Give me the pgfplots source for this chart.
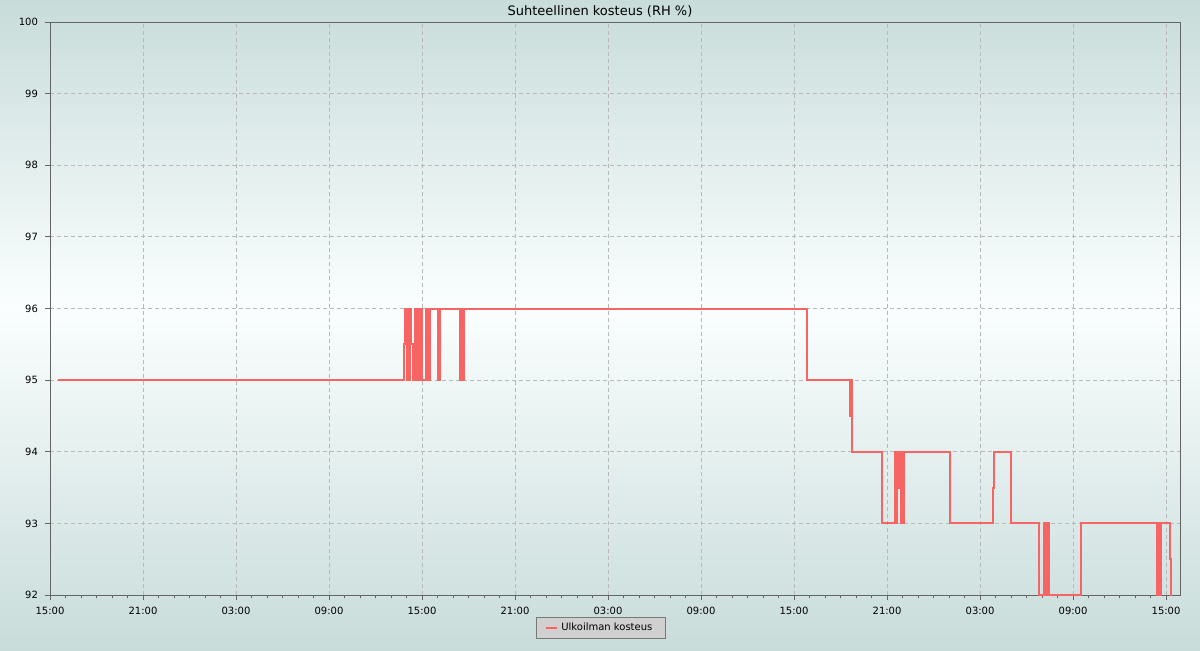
\documentclass[border=0pt]{standalone}
\usepackage{pgfplots}
\pgfplotsset{compat=1.18}
\usepackage{fontspec}
\setmainfont{DejaVu Sans}
\definecolor{bgteal}{RGB}{200,220,218}
\definecolor{bgmid}{RGB}{250,254,254}
\definecolor{linered}{RGB}{246,100,100}
\definecolor{gridgray}{RGB}{185,185,185}
\definecolor{axisgray}{RGB}{100,100,100}
\definecolor{legfill}{RGB}{208,208,208}
\definecolor{legdraw}{RGB}{120,120,120}

\begin{document}
\begin{tikzpicture}
\useasboundingbox (0,0) rectangle (600pt,325pt);
\shade[top color=bgteal, bottom color=bgmid] (0,171pt) rectangle (600pt,325pt);
\shade[top color=bgmid, bottom color=bgteal] (0,0) rectangle (600pt,171pt);
\begin{axis}[
  at={(25pt,27.5pt)}, anchor=south west, scale only axis,
  width=565pt, height=286.5pt,
  xmin=0, xmax=72.9, ymin=92, ymax=100,
  axis line style={axisgray, line width=0.5pt},
  tick style={axisgray, line width=0.5pt},
  tick align=outside, major tick length=2.5pt, minor tick length=1.7pt,
  xtick pos=left, ytick pos=left,
  grid=major,
  major grid style={gridgray, dash pattern=on 2pt off 1.5pt, line width=0.5pt},
  xtick={0,6,...,72},
  xticklabels={15:00,21:00,03:00,09:00,15:00,21:00,03:00,09:00,15:00,21:00,03:00,09:00,15:00},
  minor xtick={0,1,...,72},
  ytick={92,93,...,100},
  ticklabel style={font=\fontsize{5}{6}\selectfont, text=black},
  /pgf/number format/assume math mode=true,
  legend style={at={(0.4874,-0.0576)}, anchor=center, fill=legfill, draw=legdraw,
    line width=0.5pt, font=\fontsize{5}{6}\selectfont, inner xsep=4.5pt, inner ysep=0.5pt},
  legend image code/.code={\draw[#1, line width=0.6pt] (0pt,0pt) -- (5.5pt,0pt);},
]
\addplot[const plot, linered, line width=1pt] coordinates {
(0.516,95) (22.839,95.5) (22.903,96) (23.000,95) (23.065,96) (23.129,95)
(23.194,96) (23.290,95.5) (23.419,95) (23.516,96)
(23.613,95) (23.677,96) (23.774,95) (23.839,96) (24.000,95)
(24.258,96) (24.342,95) (24.419,96) (24.484,95) (24.535,96)
(25.032,95) (25.161,96) (26.452,95) (26.548,96) (26.613,95) (26.710,96)
(48.839,95) (51.613,94.5) (51.690,95) (51.761,94)
(53.677,93) (54.516,94) (54.600,93) (54.645,94) (54.774,93.5) (54.839,94)
(54.871,93) (54.935,93.5) (55.000,94) (55.032,93) (55.077,94)
(58.065,93) (60.819,93.5) (60.884,94) (62.000,93) (63.806,92)
(64.148,93) (64.245,92) (64.310,93) (64.432,92) (66.516,93)
(71.400,92) (71.484,93) (71.548,92) (71.658,93) (72.258,92.5) (72.323,92) (72.387,92)
};
\addlegendentry{Ulkoilman kosteus}
\end{axis}
\node[anchor=base, font=\fontsize{6.5}{8}\selectfont, inner sep=0pt] at (300pt,317pt) {Suhteellinen kosteus (RH \%)};
\end{tikzpicture}
\end{document}
